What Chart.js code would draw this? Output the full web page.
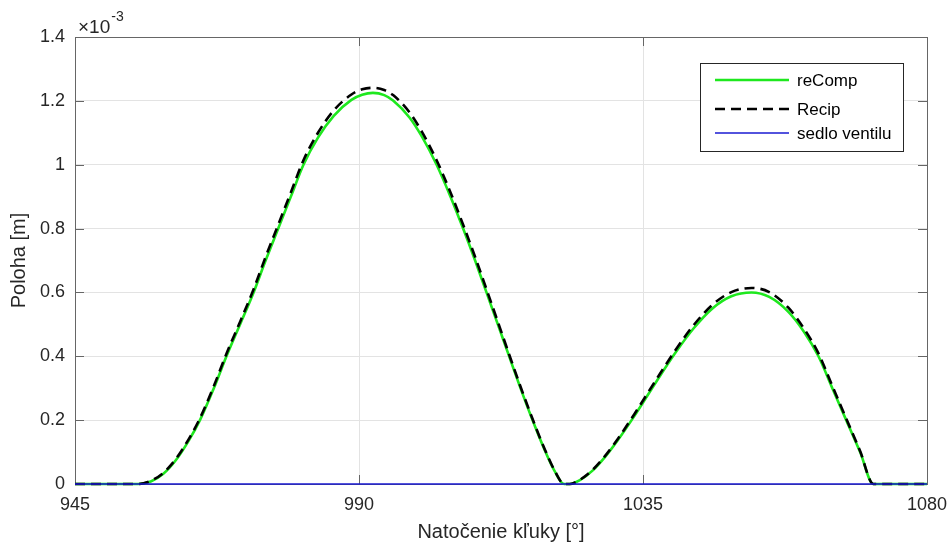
<!DOCTYPE html>
<html>
<head>
<meta charset="utf-8">
<script src="https://cdn.jsdelivr.net/npm/chart.js@4.4.0/dist/chart.umd.min.js"></script>
<style>
  html, body { margin: 0; background: #fff; }
</style>
</head>
<body>
<canvas id="c" width="951" height="544"></canvas>
<script>
// crank angle [deg] and valve lift [x1e-3 m]
const angle = [945, 955, 957, 959, 961, 963, 964.8, 967, 969, 971.2, 973.3, 975.2, 977.2, 979.2, 981.2, 983.5, 986, 988.8, 990.5, 992.2, 994, 995.4, 998, 1000, 1002.3, 1004.5, 1006.5, 1008.4, 1010.2, 1012, 1013.7, 1015.5, 1017.4, 1019.3, 1021, 1022.5, 1023.4, 1025, 1027, 1029, 1031, 1033.7, 1037, 1040.1, 1043, 1046, 1049, 1052.2, 1055, 1058, 1060.5, 1062.8, 1065, 1067.2, 1069.4, 1071.5, 1080];
const reComp = [0, 0, 0.008, 0.032, 0.075, 0.135, 0.2, 0.3, 0.4, 0.502, 0.6, 0.7, 0.8, 0.9, 1.0, 1.085, 1.153, 1.203, 1.219, 1.225, 1.218, 1.201, 1.148, 1.087, 1.0, 0.9, 0.8, 0.7, 0.6, 0.5, 0.405, 0.305, 0.205, 0.112, 0.04, 0, 0, 0.012, 0.042, 0.085, 0.137, 0.215, 0.317, 0.41, 0.487, 0.55, 0.588, 0.6, 0.586, 0.54, 0.477, 0.4, 0.3, 0.2, 0.1, 0, 0];
const recip = [0, 0, 0.01, 0.035, 0.079, 0.14, 0.206, 0.307, 0.408, 0.51, 0.61, 0.711, 0.812, 0.913, 1.014, 1.1, 1.17, 1.22, 1.236, 1.241, 1.234, 1.218, 1.164, 1.102, 1.014, 0.913, 0.812, 0.711, 0.61, 0.508, 0.411, 0.31, 0.209, 0.115, 0.042, 0, 0, 0.013, 0.044, 0.088, 0.141, 0.221, 0.324, 0.418, 0.497, 0.561, 0.601, 0.614, 0.601, 0.553, 0.487, 0.409, 0.307, 0.205, 0.103, 0, 0];
const seatAngle = [945, 1080];
const seat = [0, 0];

const xTicks = [945, 990, 1035, 1080];
const yTicks = [0, 0.2, 0.4, 0.6, 0.8, 1.0, 1.2, 1.4];

const FONT = "'Liberation Sans', Arial, Helvetica, sans-serif";
const AX = '#262626';

const pts = (xs, ys) => xs.map((x, i) => ({ x, y: ys[i] }));

// box around the axes with inward ticks on all four sides
const frame = {
  id: 'frame',
  beforeDatasetsDraw(chart) {
    const { ctx, chartArea: a, scales: { x, y } } = chart;
    const t = 9;
    ctx.save();
    ctx.strokeStyle = '#666';
    ctx.lineWidth = 1;
    ctx.beginPath();
    for (const v of xTicks) {
      const px = Math.round(x.getPixelForValue(v)) + 0.5;
      ctx.moveTo(px, a.bottom); ctx.lineTo(px, a.bottom - t);
      ctx.moveTo(px, a.top); ctx.lineTo(px, a.top + t);
    }
    for (const v of yTicks) {
      const py = Math.round(y.getPixelForValue(v)) + 0.5;
      ctx.moveTo(a.left, py); ctx.lineTo(a.left + t, py);
      ctx.moveTo(a.right, py); ctx.lineTo(a.right - t, py);
    }
    ctx.stroke();
    ctx.strokeRect(Math.round(a.left) + 0.5, Math.round(a.top) + 0.5,
      Math.round(a.right - a.left), Math.round(a.bottom - a.top));
    ctx.restore();
  },
  afterDraw(chart) {
    const { ctx, chartArea: a } = chart;
    ctx.save();
    // exponent of the y axis
    ctx.fillStyle = AX;
    ctx.textBaseline = 'alphabetic';
    ctx.textAlign = 'left';
    ctx.font = `19px ${FONT}`;
    ctx.fillText('\u00d710', a.left + 3, 33);
    const w = ctx.measureText('\u00d710').width;
    ctx.font = `14px ${FONT}`;
    ctx.fillText('-3', a.left + 3 + w + 1, 21);

    // legend box
    const bx = 700, by = 63, bw = 203, bh = 88;
    ctx.fillStyle = '#fff';
    ctx.fillRect(bx, by, bw, bh);
    ctx.strokeStyle = AX;
    ctx.lineWidth = 1;
    ctx.strokeRect(bx + 0.5, by + 0.5, bw, bh);
    const rows = [80, 109, 133];
    ctx.font = `17px ${FONT}`;
    ctx.textBaseline = 'middle';
    chart.data.datasets.forEach((ds, i) => {
      const ly = rows[i];
      ctx.strokeStyle = ds.borderColor;
      ctx.lineWidth = ds.borderWidth;
      ctx.setLineDash(ds.borderDash || []);
      ctx.beginPath();
      ctx.moveTo(715, ly); ctx.lineTo(789, ly);
      ctx.stroke();
      ctx.setLineDash([]);
      ctx.fillStyle = '#000';
      ctx.fillText(ds.label, 797, ly + 1);
    });
    ctx.restore();
  }
};

new Chart(document.getElementById('c'), {
  type: 'line',
  data: {
    datasets: [
      { label: 'reComp', data: pts(angle, reComp), borderColor: '#1ee81e', borderWidth: 2.6, order: 3 },
      { label: 'Recip', data: pts(angle, recip), borderColor: '#000', borderWidth: 2.6, borderDash: [10, 6], order: 2 },
      { label: 'sedlo ventilu', data: pts(seatAngle, seat), borderColor: '#1a1ad2', borderWidth: 1.4, order: 1 }
    ]
  },
  options: {
    responsive: false,
    animation: false,
    events: [],
    layout: { padding: { top: 37, right: 24, left: 0, bottom: 0 } },
    elements: {
      point: { radius: 0 },
      line: { cubicInterpolationMode: 'monotone', fill: false }
    },
    datasets: { line: { clip: 6 } },
    plugins: { legend: { display: false }, tooltip: { enabled: false } },
    scales: {
      x: {
        type: 'linear', min: 945, max: 1080,
        afterBuildTicks: s => { s.ticks = xTicks.map(v => ({ value: v })); },
        afterFit: s => { s.height = 60; s.paddingLeft = 0; s.paddingRight = 0; },
        grid: { color: '#e3e3e3', drawTicks: false },
        border: { display: false },
        ticks: { padding: 10, color: AX, font: { family: FONT, size: 18 }, maxRotation: 0, callback: v => String(v) },
        title: { display: true, text: 'Natočenie kľuky [°]', color: AX, font: { family: FONT, size: 20 }, padding: { top: 0, bottom: 0 } }
      },
      y: {
        type: 'linear', min: 0, max: 1.4,
        afterBuildTicks: s => { s.ticks = yTicks.map(v => ({ value: v })); },
        afterFit: s => { s.width = 75; s.paddingTop = 0; s.paddingBottom = 0; },
        grid: { color: '#e3e3e3', drawTicks: false },
        border: { display: false },
        ticks: { padding: 10, color: AX, font: { family: FONT, size: 18 }, callback: v => String(Math.round(v * 10) / 10) },
        title: { display: true, text: 'Poloha [m]', color: AX, font: { family: FONT, size: 20 }, padding: { top: 7, bottom: 0 } }
      }
    }
  },
  plugins: [frame]
});
</script>
</body>
</html>
